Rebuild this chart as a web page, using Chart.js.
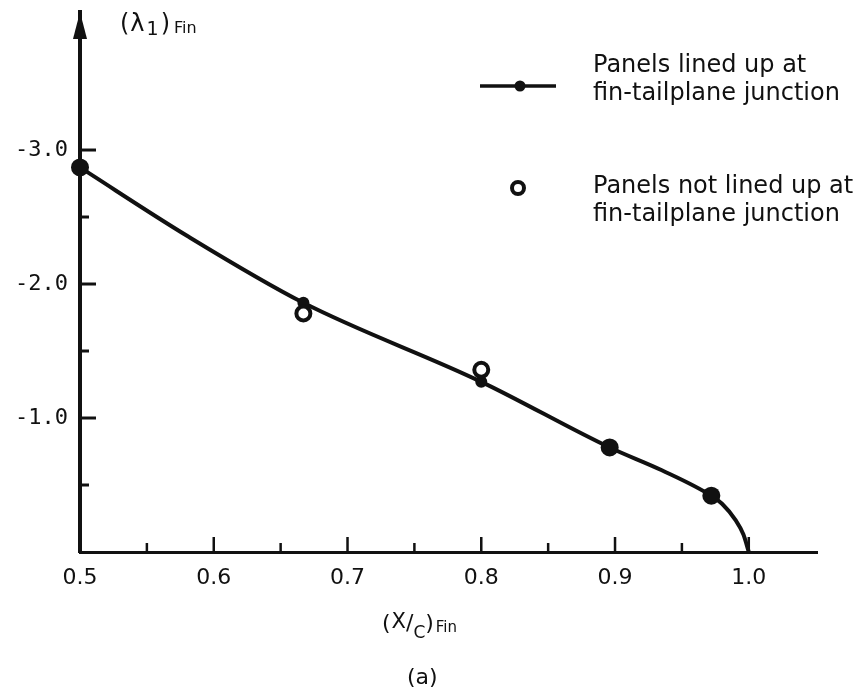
<!DOCTYPE html>
<html><head><meta charset="utf-8">
<script src="https://cdn.jsdelivr.net/npm/chart.js@4.4.1/dist/chart.umd.min.js"></script>
<style>html,body{margin:0;padding:0;background:#fff}#wrap{width:858px;height:692px}</style>
</head><body><div id="wrap"><canvas id="c" width="858" height="692"></canvas></div>
<script>
// ---- data ----
const curveX = [0.5, 0.58, 0.667, 0.8, 0.896, 0.935, 0.972, 0.98, 0.99, 0.996, 1.0];
const curveY = [-2.87, -2.36, -1.86, -1.27, -0.78, -0.61, -0.42, -0.36, -0.24, -0.13, 0];
const linedX = [0.5, 0.667, 0.8, 0.896, 0.972];
const linedY = [-2.87, -1.86, -1.27, -0.78, -0.42];
const notLinedX = [0.667, 0.8];
const notLinedY = [-1.78, -1.36];
const xTickLabels = [0.5, 0.6, 0.7, 0.8, 0.9, 1.0];
const xMinorTicks = [0.55, 0.65, 0.75, 0.85, 0.95];
const yTickLabels = [-3, -2, -1];
const yMinorTicks = [-2.5, -1.5, -0.5];
const legendLined = ["Panels lined up at", "fin-tailplane junction"];
const legendNotLined = ["Panels not lined up at", "fin-tailplane junction"];
const caption = "(a)";

const INK = '#111';
const toPts = (xs, ys) => xs.map((x, i) => ({x: x, y: ys[i]}));

const decor = {
  id: 'decor',
  afterDraw(chart) {
    const ctx = chart.ctx, xs = chart.scales.x, ys = chart.scales.y, ca = chart.chartArea;
    ctx.save();
    ctx.strokeStyle = INK; ctx.fillStyle = INK; ctx.lineCap = 'butt';
    ctx.lineWidth = 2.5;
    xTickLabels.slice(1).forEach(v => {
      const p = xs.getPixelForValue(v);
      ctx.beginPath(); ctx.moveTo(p, ca.bottom); ctx.lineTo(p, ca.bottom - 15); ctx.stroke();
    });
    xMinorTicks.forEach(v => {
      const p = xs.getPixelForValue(v);
      ctx.beginPath(); ctx.moveTo(p, ca.bottom); ctx.lineTo(p, ca.bottom - 9); ctx.stroke();
    });
    ctx.lineWidth = 3;
    yTickLabels.forEach(v => {
      const p = ys.getPixelForValue(v);
      ctx.beginPath(); ctx.moveTo(ca.left, p); ctx.lineTo(ca.left + 16, p); ctx.stroke();
    });
    yMinorTicks.forEach(v => {
      const p = ys.getPixelForValue(v);
      ctx.beginPath(); ctx.moveTo(ca.left, p); ctx.lineTo(ca.left + 9, p); ctx.stroke();
    });
    const ax = ca.left, at = ca.top;
    ctx.beginPath(); ctx.moveTo(ax, at); ctx.lineTo(ax - 7, at + 27); ctx.lineTo(ax + 7, at + 27); ctx.closePath(); ctx.fill();

    ctx.lineWidth = 3.5;
    ctx.beginPath(); ctx.moveTo(480, 86); ctx.lineTo(556, 86); ctx.stroke();
    ctx.beginPath(); ctx.arc(520, 86, 5.5, 0, Math.PI * 2); ctx.fill();
    ctx.beginPath(); ctx.arc(518, 188, 6, 0, Math.PI * 2);
    ctx.fillStyle = '#fff'; ctx.fill(); ctx.lineWidth = 4; ctx.stroke();
    ctx.fillStyle = INK;
    ctx.font = '24px "DejaVu Sans"'; ctx.textBaseline = 'alphabetic'; ctx.textAlign = 'left';
    ctx.fillText(legendLined[0], 593, 72);
    ctx.fillText(legendLined[1], 593, 100);
    ctx.fillText(legendNotLined[0], 593, 193);
    ctx.fillText(legendNotLined[1], 593, 221);

    const seq = (x, parts) => {
      parts.forEach(p => {
        ctx.font = p.f; x += (p.gap || 0);
        ctx.fillText(p.t, x, p.y); x += ctx.measureText(p.t).width;
      });
    };
    seq(120, [
      {t: '(', f: '24px "DejaVu Sans"', y: 31},
      {t: '\u03BB', f: '24px "DejaVu Sans"', y: 31, gap: 1},
      {t: '1', f: '19px "DejaVu Sans"', y: 35, gap: 2},
      {t: ')', f: '24px "DejaVu Sans"', y: 31, gap: 2},
      {t: 'Fin', f: '16px "DejaVu Sans"', y: 33, gap: 4}
    ]);
    seq(382, [
      {t: '(', f: '22px "DejaVu Sans"', y: 630},
      {t: 'X', f: '21px "DejaVu Sans"', y: 628, gap: 1},
      {t: '/', f: '22px "DejaVu Sans"', y: 630},
      {t: 'C', f: '17px "DejaVu Sans"', y: 638},
      {t: ')', f: '22px "DejaVu Sans"', y: 630},
      {t: 'Fin', f: '15px "DejaVu Sans"', y: 632, gap: 2}
    ]);
    ctx.font = '22px "DejaVu Sans"';
    ctx.fillText(caption, 407, 684);
    ctx.restore();
  }
};

new Chart(document.getElementById('c'), {
  type: 'scatter',
  data: {
    datasets: [
      {
        label: 'curve', data: toPts(curveX, curveY), showLine: true,
        borderColor: INK, borderWidth: 4, pointRadius: 0, clip: false,
        cubicInterpolationMode: 'monotone', order: 3
      },
      {
        label: legendLined.join(' '), data: toPts(linedX, linedY), showLine: false,
        pointRadius: [9, 6, 6, 9, 9], pointBackgroundColor: INK, pointBorderColor: INK,
        pointBorderWidth: 0, order: 2, clip: false
      },
      {
        label: legendNotLined.join(' '), data: toPts(notLinedX, notLinedY), showLine: false,
        pointRadius: 7, pointBackgroundColor: '#fff', pointBorderColor: INK,
        pointBorderWidth: 4, order: 1, clip: false
      }
    ]
  },
  options: {
    responsive: false, animation: false, events: [],
    layout: {padding: {left: 0, top: 12, right: 41, bottom: 0}},
    plugins: {legend: {display: false}, tooltip: {enabled: false}},
    scales: {
      x: {
        type: 'linear', min: 0.5, max: 1.051,
        afterBuildTicks: s => { s.ticks = xTickLabels.map(v => ({value: v})); },
        afterFit: s => { s.height = 140; s.paddingLeft = 0; s.paddingRight = 0; },
        grid: {display: false, drawTicks: false},
        border: {display: true, color: INK, width: 3},
        ticks: {color: INK, font: {family: 'DejaVu Sans', size: 22}, padding: 13,
                maxRotation: 0, autoSkip: false, callback: v => v.toFixed(1)}
      },
      y: {
        type: 'linear', min: -4.03, max: 0, reverse: true,
        afterBuildTicks: s => { s.ticks = yTickLabels.map(v => ({value: v})); },
        afterFit: s => { s.width = 80; s.paddingTop = 0; s.paddingBottom = 0; },
        grid: {display: false, drawTicks: false},
        border: {display: true, color: INK, width: 4},
        ticks: {color: INK, font: {family: 'DejaVu Sans Mono', size: 22}, padding: 12,
                autoSkip: false, callback: v => v.toFixed(1)}
      }
    }
  },
  plugins: [decor]
});
</script></body></html>
